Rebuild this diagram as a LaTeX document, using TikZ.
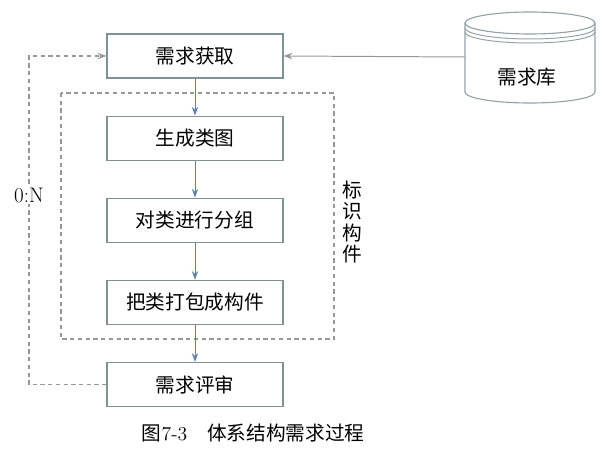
\documentclass[tikz,border=0pt]{standalone}
\usepackage{fontspec}
\newfontfamily\cjk{Noto Sans CJK SC}
\usepackage{xcolor}
\usepackage{tikz}
\usetikzlibrary{arrows.meta, positioning}

\begin{document}
\begin{tikzpicture}[
    node distance=0.925cm,
    box/.style={
        rectangle,
        draw=boxgray,
        line width=0.8pt,
        align=center,
        minimum height=1.1cm,
        minimum width=4.4cm,
        font=\cjk\fontsize{14}{17}\selectfont
    },
    arrow/.style={-{Stealth[length=2.2mm,width=1.6mm]}, draw=arrowblue, line width=0.7pt},
    dashline/.style={dash pattern=on 3pt off 2.5pt, draw=dashgray, line width=0.8pt}
]

% Colors
\definecolor{boxgray}{RGB}{128,146,150}
\definecolor{arrowblue}{RGB}{96,130,168}
\definecolor{dashgray}{RGB}{150,152,152}

\useasboundingbox (0,0) rectangle (15.2,-11.675);

% Main column
\node[box] (acquire) at (4.875,-1.4) {需求获取};
\node[box, below=of acquire] (classdiag) {生成类图};
\node[box, below=of classdiag] (grouping) {对类进行分组};
\node[box, below=of grouping] (packing) {把类打包成构件};
\node[box, below=of packing] (review) {需求评审};

% Dashed frame round the component steps
\draw[dashline] (1.525,-2.325) rectangle (8.35,-8.475);
\node[font=\cjk\fontsize{14}{15}\selectfont, align=center] (identify) at (8.8,-5.55) {标\\识\\构\\件};

% Requirement store (cylinder)
\draw[boxgray!85, line width=0.8pt] (11.625,-0.575) -- (11.625,-2.3)
    arc[start angle=180, end angle=360, x radius=1.625cm, y radius=0.275cm]
    -- (14.875,-0.575);
\draw[boxgray!85, line width=0.8pt] (13.25,-0.575) ellipse[x radius=1.625cm, y radius=0.275cm];
\draw[boxgray!85, line width=0.7pt] (11.625,-0.7) arc[start angle=180, end angle=360, x radius=1.625cm, y radius=0.275cm];
\draw[boxgray!85, line width=0.7pt] (11.625,-0.8) arc[start angle=180, end angle=360, x radius=1.625cm, y radius=0.275cm];
\node[minimum width=3.25cm, minimum height=2.275cm, inner sep=0] (store) at (13.25,-1.425) {};
\node[font=\cjk\fontsize{14}{17}\selectfont] (storelabel) at (13.175,-1.925) {需求库};

% Arrows
\draw[arrow, draw=dashgray] (store.west) -- (acquire.east);
\draw[arrow] (acquire) -- (classdiag);
\draw[arrow] (classdiag) -- (grouping);
\draw[arrow] (grouping) -- (packing);
\draw[arrow] (packing) -- (review);

% Feedback loop
\coordinate (loopleft) at (0.725,0);
\draw[dashline, -{Stealth[length=2.2mm,width=1.6mm]}] (review.west) -- (review.west -| loopleft) |- (acquire.west);
\node[fill=white, font=\fontsize{15}{18}\selectfont, inner sep=1pt] (ratio) at (0.725,-4.875) {0:N};

% Caption
\node[font=\fontsize{14}{17}\selectfont] (caption) at (6.33,-10.83) {{\cjk 图}7-3\quad{\cjk 体系结构需求过程}};

\end{tikzpicture}
\end{document}
